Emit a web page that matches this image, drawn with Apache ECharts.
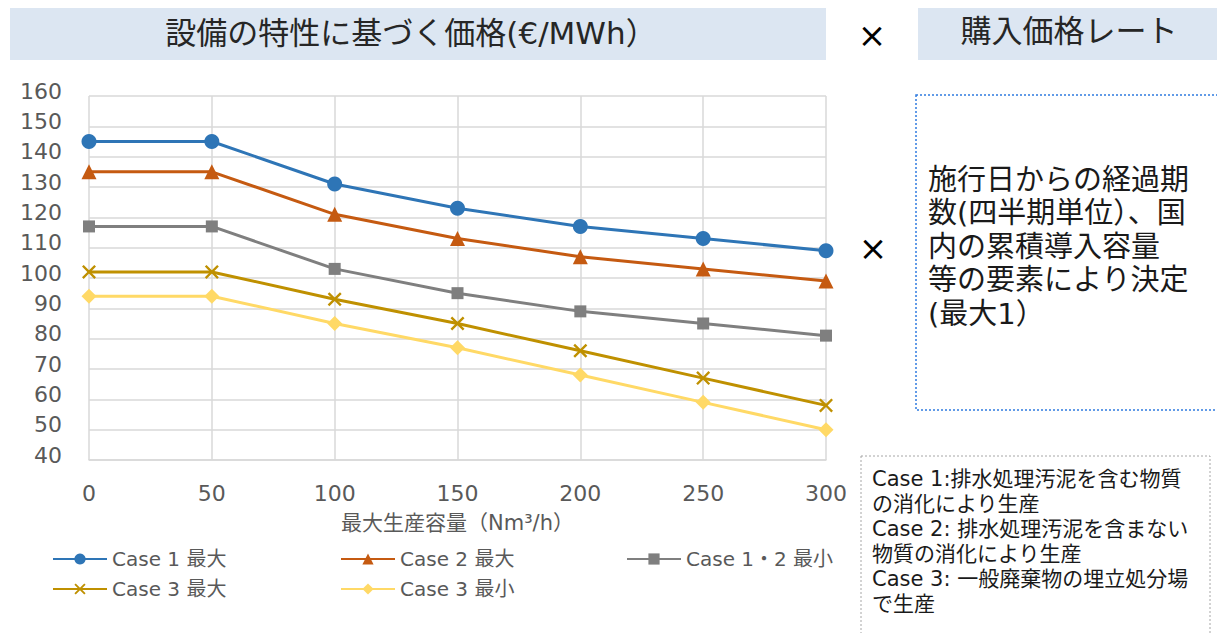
<!DOCTYPE html>
<html lang="ja">
<head>
    <meta charset="UTF-8">
    <title>価格</title>
    <script src="https://cdn.jsdelivr.net/npm/echarts@6/dist/echarts.min.js"></script>
    <style>
        html, body { margin: 0; padding: 0; background: #fff; }
        #main { width: 1217px; height: 633px; }
    </style>
</head>
<body>
<div id="main"></div>
<script>
    // データ
    var capacity = ['0', '50', '100', '150', '200', '250', '300'];
    var case1Max = [145, 145, 131, 123, 117, 113, 109];
    var case2Max = [135, 135, 121, 113, 107, 103, 99];
    var case12Min = [117, 117, 103, 95, 89, 85, 81];
    var case3Max = [102, 102, 93, 85, 76, 67, 58];
    var case3Min = [94, 94, 85, 77, 68, 59, 50];
    var seriesNames = ['Case 1 最大', 'Case 2 最大', 'Case 1・2 最小', 'Case 3 最大', 'Case 3 最小'];

    var rightText = ['施行日からの経過期', '数(四半期単位）、国', '内の累積導入容量', '等の要素により決定', '(最大1）'];
    var noteText = ['Case 1:排水処理汚泥を含む物質', 'の消化により生産', 'Case 2: 排水処理汚泥を含まない',
        '物質の消化により生産', 'Case 3: 一般廃棄物の埋立処分場', 'で生産'];

    var font = '"DejaVu Sans", "Noto Sans CJK JP", sans-serif';
    var crossPath = 'path://M0,1.2 L1.2,0 L5,3.8 L8.8,0 L10,1.2 L6.2,5 L10,8.8 L8.8,10 L5,6.2 L1.2,10 L0,8.8 L3.8,5 Z';

    function line(name, data, color, symbol, size) {
        return {
            name: name,
            type: 'line',
            data: data,
            symbol: symbol,
            symbolSize: size,
            showAllSymbol: true,
            lineStyle: { color: color, width: 3 },
            itemStyle: { color: color },
            z: 3
        };
    }

    function legendCol(x, names) {
        return {
            data: names,
            orient: 'vertical',
            left: x,
            top: 548,
            padding: 0,
            itemWidth: 54,
            itemHeight: 14,
            itemGap: 8,
            textStyle: { color: '#595959', fontSize: 20, fontFamily: font, lineHeight: 22 }
        };
    }

    var myChart = echarts.init(document.getElementById('main'), null, { renderer: 'svg' });

    var graphics = [
        { type: 'rect', shape: { x: 10, y: 8, width: 816, height: 52 }, style: { fill: '#DCE6F2' } },
        { type: 'rect', shape: { x: 918, y: 8, width: 310, height: 52 }, style: { fill: '#DCE6F2' } },
        { type: 'text', x: 411, y: 33, style: { text: '設備の特性に基づく価格(€/MWh）', fill: '#262626', font: '31px ' + font, textAlign: 'center', textVerticalAlign: 'middle' } },
        { type: 'text', x: 1069, y: 31, style: { text: '購入価格レート', fill: '#262626', font: '31px ' + font, textAlign: 'center', textVerticalAlign: 'middle' } },
        { type: 'text', x: 872, y: 35, style: { text: '×', fill: '#000', font: '34px ' + font, textAlign: 'center', textVerticalAlign: 'middle' } },
        { type: 'text', x: 873, y: 248, style: { text: '×', fill: '#000', font: '34px ' + font, textAlign: 'center', textVerticalAlign: 'middle' } },
        // 右側の点線ボックス
        { type: 'rect', shape: { x: 916, y: 95, width: 320, height: 315 }, style: { fill: 'none', stroke: '#2F7BE0', lineWidth: 1.5, lineDash: [2, 2] } },
        { type: 'text', left: 928, top: 163, style: { text: rightText.join('\n'), fill: '#1a1a1a', font: '29px ' + font, lineHeight: 33.5 } },
        // 注記
        { type: 'rect', shape: { x: 861, y: 456, width: 349, height: 190 }, style: { fill: 'none', stroke: '#A6A6A6', lineWidth: 1, lineDash: [2, 2] } },
        { type: 'text', left: 872, top: 466, style: { text: noteText.join('\n'), fill: '#1a1a1a', font: '21px ' + font, lineHeight: 25 } }
    ];

    var option = {
        backgroundColor: '#fff',
        animation: false,
        grid: { left: 89, right: 391, top: 96, bottom: 173 },
        legend: [
            legendCol(52, [seriesNames[0], seriesNames[3]]),
            legendCol(340, [seriesNames[1], seriesNames[4]]),
            legendCol(626, [seriesNames[2]])
        ],
        xAxis: {
            type: 'category',
            data: capacity,
            boundaryGap: false,
            name: '最大生産容量（Nm³/h）',
            nameLocation: 'middle',
            nameGap: 52,
            nameTextStyle: { color: '#595959', fontSize: 21, fontFamily: font },
            axisLine: { lineStyle: { color: '#D9D9D9', width: 1.5 } },
            axisTick: { show: false },
            axisLabel: { color: '#595959', fontSize: 22, fontFamily: font, margin: 22 },
            splitLine: { show: true, lineStyle: { color: '#D9D9D9', width: 1.5 } }
        },
        yAxis: {
            type: 'value',
            min: 40,
            max: 160,
            interval: 10,
            axisLine: { show: false },
            axisTick: { show: false },
            axisLabel: { color: '#595959', fontSize: 22, fontFamily: font, margin: 27, verticalAlign: 'bottom', lineHeight: 10 },
            splitLine: { lineStyle: { color: '#D9D9D9', width: 1.5 } }
        },
        series: [
            line(seriesNames[0], case1Max, '#2E75B6', 'circle', 15),
            line(seriesNames[1], case2Max, '#C55A11', 'triangle', 15),
            line(seriesNames[2], case12Min, '#7F7F7F', 'rect', 12),
            line(seriesNames[3], case3Max, '#BF9000', crossPath, 14),
            line(seriesNames[4], case3Min, '#FFD966', 'diamond', 15)
        ],
        graphic: graphics
    };

    myChart.setOption(option);
</script>
</body>
</html>
